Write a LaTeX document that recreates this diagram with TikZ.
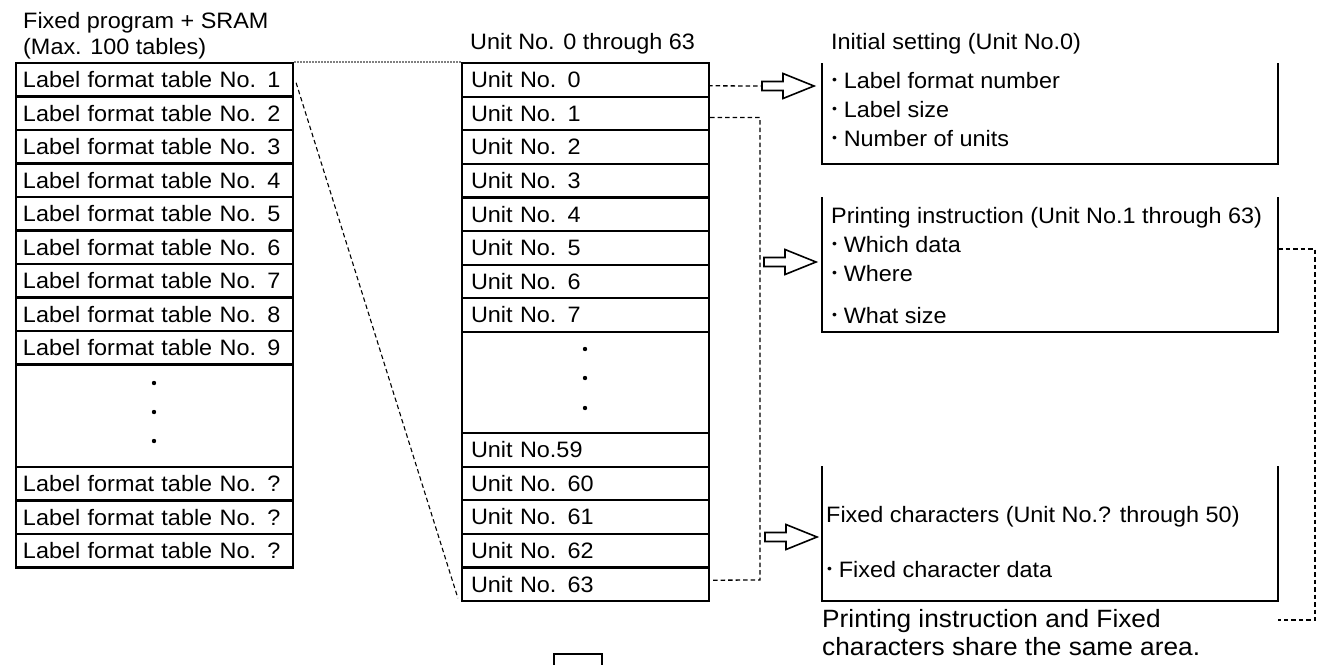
\documentclass[tikz,border=0pt]{standalone}
\usepackage{fontspec}
\setmainfont{Liberation Sans}[FakeStretch=1.05]
\usepackage{tikz}
\usetikzlibrary{positioning,calc}
\newcommand{\bul}{\raisebox{0.17em}{\scalebox{0.6}{•}}\hspace{0.3em}}

\tikzset{
  tablerow/.style={draw, line width=2.2pt, minimum width=277pt, minimum height=33.5pt,
    inner xsep=7pt, inner ysep=0pt, text width=263pt, align=left},
  unitrow/.style={draw, line width=2.2pt, minimum width=247pt, minimum height=33.6pt,
    inner xsep=9pt, inner ysep=0pt, text width=229pt, align=left},
  txt/.style={anchor=base west, inner sep=0pt},
  link/.style={line width=1.3pt, dash pattern=on 4.5pt off 3pt},
  hollow arrow/.pic={
    \draw[line width=1.6pt] (0,-4.5) -- (21,-4.5) -- (21,-12.5) -- (52,0)
      -- (21,12.5) -- (21,4.5) -- (0,4.5) -- cycle;}
}

\begin{document}
\begin{tikzpicture}[x=1pt, y=-1pt, font=\fontsize{22.3}{26}\selectfont]
\useasboundingbox (0,0) rectangle (1330,664);

% titles
\node[txt] (ttab) at (23,28) {Fixed program + SRAM};
\node[txt] (tmax) at (23,54) {(Max. 100 tables)};
\node[txt] (tunit) at (470,49) {Unit No. 0 through 63};
\node[txt] (tinit) at (831,49) {Initial setting (Unit No.0)};

% label format tables
\foreach \i in {1,...,9}
  \node[tablerow] (t\i) at (154.5,{63+33.5*(\i-1)+16.75}) {Label format table No. \i};
\node[tablerow, minimum height=102.5pt] (tdots) at (154.5,415.75) {};
\foreach \y in {383,412,441} \fill (154,\y) circle (2.2);
\foreach \n/\y in {a/467,b/500.5,c/534}
  \node[tablerow] (tq\n) at (154.5,\y+16.75) {Label format table No. ?};

% units
\foreach \i in {0,...,7}
  \node[unitrow] (u\i) at (585.5,{63+33.6*\i+16.8}) {Unit No. \i};
\node[unitrow, minimum height=101.2pt] (udots) at (585.5,382.4) {};
\foreach \y in {349,378,408} \fill (585,\y) circle (2.2);
\foreach \i/\t in {59/{Unit No.59},60/{Unit No. 60},61/{Unit No. 61},62/{Unit No. 62},63/{Unit No. 63}}
  \node[unitrow] (u\i) at (585.5,{433+33.6*(\i-59)+16.8}) {\t};

% zoom lines
\draw[gray, line width=1.5pt, dash pattern=on 2pt off 1pt] (t1.north east) -- (u0.north west);
\draw[link, line width=1.1pt] ([xshift=2pt,yshift=-3pt]t1.east) -- ([xshift=-3pt,yshift=4pt]u63.south west);

% right boxes (open on top)
\draw[line width=2.2pt] (822,63) |- (1278,164) -- (1278,63);
\draw[line width=2.2pt] (822,197) |- (1278,332) -- (1278,197);
\draw[line width=2.2pt] (822,466) |- (1278,601) -- (1278,466);

\node[txt] (i1) at (832,88.5) {\bul Label format number};
\node[txt] (i2) at (832,117) {\bul Label size};
\node[txt] (i3) at (832,146.5) {\bul Number of units};

\node[txt] (p0) at (831,223) {Printing instruction (Unit No.1 through 63)};
\node[txt] (p1) at (832,252) {\bul Which data};
\node[txt] (p2) at (832,281) {\bul Where};
\node[txt] (p3) at (832,323) {\bul What size};

\node[txt] (f0) at (826,522) {Fixed characters (Unit No.? through 50)};
\node[txt] (f1) at (827,577) {\bul Fixed character data};

\node[txt, font=\fontsize{25}{28}\selectfont] (note) at (822,627)
  {Printing instruction and Fixed};
\node[txt, font=\fontsize{25}{28}\selectfont] (note2) at (822,655)
  {characters share the same area.};

% hollow arrows
\coordinate (arr1) at (762,86);
\coordinate (arr2) at (764,262);
\coordinate (arr3) at (765,537);
\pic at (arr1) {hollow arrow};
\pic at (arr2) {hollow arrow};
\pic at (arr3) {hollow arrow};

% connectors
\draw[link] ([xshift=-2pt,yshift=-6pt]u0.east) -- (arr1);
\coordinate (brk) at (760,580);
\draw[link] ([yshift=-4pt]u1.east) -| (brk) -- ([yshift=4pt]u63.east);
\coordinate (prR) at (1278,249);
\coordinate (noteR) at (1278,620);
\draw[link] (prR) -- (1315,249) |- (noteR);

% small box at bottom
\draw[line width=2.2pt] (554,668) |- (602,654) -- (602,668);
\end{tikzpicture}
\end{document}
